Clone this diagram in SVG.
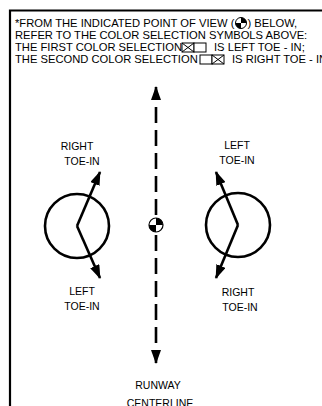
<svg xmlns="http://www.w3.org/2000/svg" width="322" height="406" viewBox="0 0 322 406">
<defs>
<style>
.hdr{font-family:"Liberation Sans",Arial,sans-serif;font-size:11.2px;fill:#000}
.lbl{font-family:"Liberation Sans",Arial,sans-serif;font-size:10.5px;fill:#000;text-anchor:middle}
.ln{stroke:#000;stroke-width:2.6;fill:none}
.cb{stroke:#000;stroke-width:1;fill:#fff}
</style>
<marker id="ah" viewBox="0 0 14 10" refX="13" refY="5" markerWidth="14" markerHeight="10" markerUnits="userSpaceOnUse" orient="auto">
<path d="M0,0 L14,5 L0,10 Z" fill="#000"/>
</marker>
</defs>
<rect width="322" height="406" fill="#fff"/>
<g id="frame">
<path d="M10,406 V10.5 H322" stroke="#000" stroke-width="2.2" fill="none"/>
</g>
<g id="note">
<text class="hdr" x="15" y="27">*FROM THE INDICATED POINT OF VIEW (</text>
<g transform="translate(241,23)">
<circle r="5.5" fill="#fff" stroke="#000" stroke-width="1"/>
<path d="M0,0 V-5.5 A5.5,5.5 0 0 1 5.5,0 Z M0,0 V5.5 A5.5,5.5 0 0 1 -5.5,0 Z" fill="#000"/>
</g>
<text class="hdr" x="247.5" y="27">) BELOW,</text>
<text class="hdr" x="15" y="39">REFER TO THE COLOR SELECTION SYMBOLS ABOVE:</text>
<text class="hdr" x="15" y="51">THE FIRST COLOR SELECTION</text>
<g transform="translate(182,43)">
<rect class="cb" width="12" height="9"/>
<path d="M0,0 L12,9 M12,0 L0,9" stroke="#000" stroke-width="1"/>
<rect class="cb" x="12" width="12" height="9"/>
</g>
<text class="hdr" x="214" y="51">IS LEFT TOE - IN;</text>
<text class="hdr" x="15" y="63">THE SECOND COLOR SELECTION</text>
<g transform="translate(200,55)">
<rect class="cb" width="12" height="9"/>
<rect class="cb" x="12" width="12" height="9"/>
<path d="M12,0 L24,9 M24,0 L12,9" stroke="#000" stroke-width="1"/>
</g>
<text class="hdr" x="232" y="63">IS RIGHT TOE - IN</text>
</g>
<g id="connectors">
<path class="ln" d="M156,215 V87" stroke-dasharray="16 7" marker-end="url(#ah)"/>
<path class="ln" d="M156,235 V363" stroke-dasharray="16 7" marker-end="url(#ah)"/>
</g>
<g id="viewpoint">
<g transform="translate(156,225)">
<circle r="7" fill="#fff" stroke="#000" stroke-width="1.2"/>
<path d="M0,0 V-7 A7,7 0 0 1 7,0 Z M0,0 V7 A7,7 0 0 1 -7,0 Z" fill="#000"/>
</g>
</g>
<g id="left-wheel">
<circle class="ln" cx="77" cy="226" r="32"/>
<path class="ln" d="M77,226 L100,172" marker-end="url(#ah)"/>
<path class="ln" d="M77,226 L100,278" marker-end="url(#ah)"/>
<text class="lbl" x="77" y="150">RIGHT</text>
<text class="lbl" x="82" y="165">TOE-IN</text>
<text class="lbl" x="82" y="295">LEFT</text>
<text class="lbl" x="82" y="310">TOE-IN</text>
</g>
<g id="right-wheel">
<circle class="ln" cx="238" cy="225" r="32"/>
<path class="ln" d="M238,225 L216,172" marker-end="url(#ah)"/>
<path class="ln" d="M238,225 L216,278" marker-end="url(#ah)"/>
<text class="lbl" x="237" y="149">LEFT</text>
<text class="lbl" x="237" y="164">TOE-IN</text>
<text class="lbl" x="238" y="296">RIGHT</text>
<text class="lbl" x="240" y="311">TOE-IN</text>
</g>
<g id="runway">
<text class="lbl" x="158" y="389">RUNWAY</text>
<text class="lbl" x="160" y="407">CENTERLINE</text>
</g>
</svg>
